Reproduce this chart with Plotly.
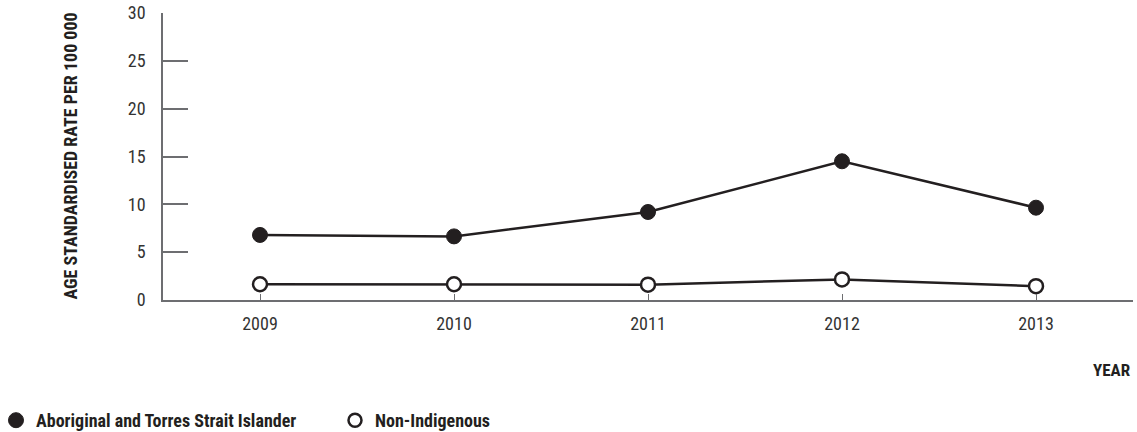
import plotly.graph_objects as go

years = [2009, 2010, 2011, 2012, 2013]
aboriginal = [6.8, 6.65, 9.2, 14.5, 9.65]
non_indigenous = [1.65, 1.65, 1.6, 2.15, 1.45]
y_ticks = [0, 5, 10, 15, 20, 25, 30]
series_names = ["Aboriginal and Torres Strait Islander", "Non-Indigenous"]

FONT = "Liberation Sans Narrow, Arial Narrow, Roboto Condensed, sans-serif"
W, H = 1137, 432
L, R, T, B = 163, 4, 13, 132
PW, PH = W - L - R, H - T - B

fig = go.Figure()
fig.add_trace(go.Scatter(
    x=years, y=aboriginal, mode="lines+markers", showlegend=False,
    line=dict(color="#231f20", width=2.5),
    marker=dict(size=15, color="#231f20", line=dict(color="#231f20", width=1)),
))
fig.add_trace(go.Scatter(
    x=years, y=non_indigenous, mode="lines+markers", showlegend=False,
    line=dict(color="#231f20", width=2.5),
    marker=dict(size=14, color="white", line=dict(color="#231f20", width=2.5)),
))
# legend entries (markers only)
fig.add_trace(go.Scatter(
    x=[None], y=[None], mode="markers", name=series_names[0],
    marker=dict(size=15, color="#231f20", line=dict(color="#231f20", width=1)),
))
fig.add_trace(go.Scatter(
    x=[None], y=[None], mode="markers", name=series_names[1],
    marker=dict(size=13, color="white", line=dict(color="#231f20", width=2.5)),
))

fig.update_layout(
    width=W, height=H,
    margin=dict(l=L, r=R, t=T, b=B, autoexpand=False),
    plot_bgcolor="white", paper_bgcolor="white",
    font=dict(family=FONT, color="#333333", size=18),
    showlegend=True,
    legend=dict(
        orientation="h", xref="paper", yref="paper",
        x=(-4 - L) / PW, y=-(439 - (H - B)) / PH, xanchor="left", yanchor="bottom",
        font=dict(family=FONT, size=18, color="#231f20", weight="bold"),
        itemsizing="trace", entrywidth=294, entrywidthmode="pixels",
        bgcolor="rgba(0,0,0,0)",
    ),
    xaxis=dict(
        range=[2008.5, 2013.5], tickvals=years, ticktext=[str(v) for v in years],
        showgrid=False, zeroline=False, showline=True, linecolor="#6d6e71", linewidth=1.5,
        ticks="inside", ticklen=6, tickcolor="#6d6e71", tickwidth=1,
        ticklabelstandoff=7, tickfont=dict(size=18, color="#333333"),
    ),
    yaxis=dict(
        range=[0, 30], tickvals=y_ticks,
        showgrid=False, zeroline=False, showline=True, linecolor="#6d6e71", linewidth=1.5,
        ticks="inside", ticklen=25, tickcolor="#6d6e71", tickwidth=1.5,
        ticklabelstandoff=12, tickfont=dict(size=18, color="#333333"),
    ),
    annotations=[
        dict(text="AGE STANDARDISED RATE PER 100 000", textangle=-90,
             xref="paper", yref="paper", x=(70 - L) / PW, y=0.5,
             xanchor="center", yanchor="middle", showarrow=False,
             font=dict(family=FONT, size=18, color="#231f20", weight="bold")),
        dict(text="YEAR", xref="paper", yref="paper", x=1.0,
             y=-(370 - (H - B)) / PH,
             xanchor="right", yanchor="middle", showarrow=False,
             font=dict(family=FONT, size=17, color="#231f20", weight="bold")),
    ],
)

fig.write_html("out.html", config={"displayModeBar": False},
               post_script="document.body.style.margin='0';")
